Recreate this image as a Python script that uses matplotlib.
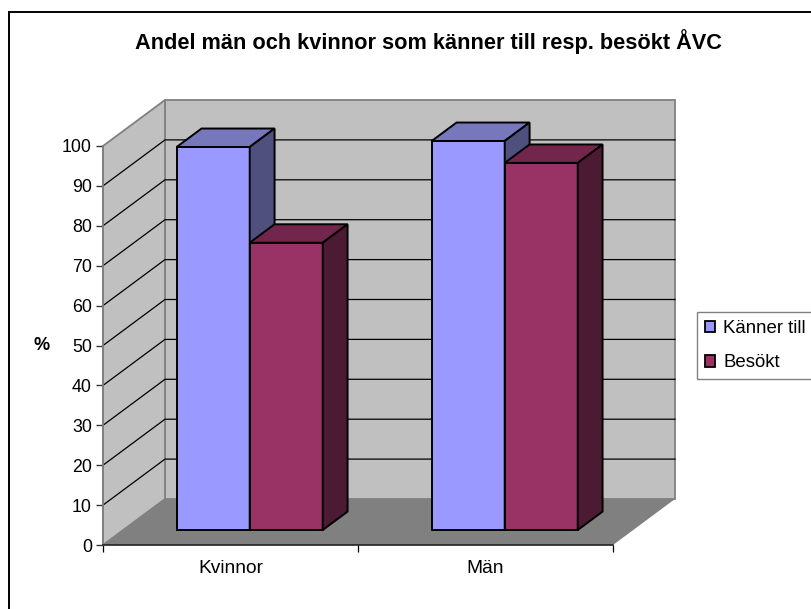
import matplotlib
matplotlib.use("Agg")
from matplotlib import pyplot as plt
from matplotlib.patches import Patch, Polygon, Rectangle

W, H = 811, 609

categories = ["Kvinnor", "Män"]
kanner_till = [96, 97.5]
besokt = [72, 92]
series_names = ["Känner till", "Besökt"]
y_ticks = [0, 10, 20, 30, 40, 50, 60, 70, 80, 90, 100]

# depth of the fake 3d box, in data units (categories / percent)
DX = 62 / 255
DY = 46 / 3.99
# bars sit between these depth fractions
Z0 = 0.326
Z1 = 0.727
BAR_OFF = 53.5 / 255
BAR_W = 73 / 255

blue = ("#9999FF", "#7777BB", "#50507F")
maroon = ("#993366", "#73264C", "#4D1A33")

plt.rcParams["font.family"] = ["Liberation Sans", "DejaVu Sans"]


def proj(x, y, z):
    return (x + z * DX, y + z * DY)


def face(ax, pts, color, edge="none", lw=0.0, zorder=1):
    ax.add_patch(Polygon([proj(*p) for p in pts], closed=True, facecolor=color,
                         edgecolor=edge, linewidth=lw, clip_on=False, zorder=zorder,
                         joinstyle="miter"))


def bar3d(ax, x, val, cols):
    x1 = x + BAR_W
    face(ax, [(x, 0, Z0), (x1, 0, Z0), (x1, val, Z0), (x, val, Z0)], cols[0], "black", 1.4, 5)
    face(ax, [(x, val, Z0), (x1, val, Z0), (x1, val, Z1), (x, val, Z1)], cols[1], "black", 1.4, 5)
    face(ax, [(x1, 0, Z0), (x1, 0, Z1), (x1, val, Z1), (x1, val, Z0)], cols[2], "black", 1.4, 5)


fig = plt.figure(figsize=(W / 100, H / 100), dpi=100)
ax = fig.add_axes([103 / W, 1 - 545 / H, 510 / W, 399 / H])
ax.set_xlim(0, len(categories))
ax.set_ylim(0, 100)
ax.patch.set_visible(False)

# outer frame, runs off the image on the right and bottom
fig.add_artist(Rectangle((8.5 / W, -0.02), 1, 1 - 11.5 / H + 0.02, transform=fig.transFigure,
                         facecolor="none", edgecolor="black", linewidth=1.4))

n = len(categories)
wall = "#808080"
# walls and floor
face(ax, [(0, 0, 1), (n, 0, 1), (n, 100, 1), (0, 100, 1)], "#C0C0C0", wall, 1.3, 1)
face(ax, [(0, 0, 0), (0, 0, 1), (0, 100, 1), (0, 100, 0)], "#C0C0C0", wall, 1.3, 1)
for t in y_ticks[1:-1]:
    xs, ys = zip(proj(0, t, 0), proj(0, t, 1), proj(n, t, 1))
    ax.plot(xs, ys, color="black", lw=0.9, clip_on=False, zorder=2)
face(ax, [(0, 0, 0), (n, 0, 0), (n, 0, 1), (0, 0, 1)], "#808080", zorder=3)

for i in range(n):
    bar3d(ax, i + BAR_OFF, kanner_till[i], blue)
    bar3d(ax, i + BAR_OFF + BAR_W, besokt[i], maroon)

for s in ["top", "right"]:
    ax.spines[s].set_visible(False)
ax.spines["left"].set_color("#808080")
ax.spines["left"].set_linewidth(1.3)
ax.spines["bottom"].set_color("#222222")
ax.spines["bottom"].set_linewidth(1.2)
ax.spines["left"].set_zorder(4)
ax.spines["bottom"].set_zorder(4)

ax.set_yticks(y_ticks)
ax.tick_params(axis="y", length=5, width=1, color="#333333", labelsize=12.8, pad=3)
ax.set_xticks(range(n + 1))
ax.set_xticklabels([])
ax.set_xticks([i + 0.5 for i in range(n)], minor=True)
ax.set_xticklabels(categories, minor=True)
ax.tick_params(axis="x", which="major", length=5.2, width=0.9, color="black")
ax.tick_params(axis="x", which="minor", length=0, labelsize=13.8, pad=11)

fig.text(428 / W, 1 - 42 / H, "Andel män och kvinnor som känner till resp. besökt ÅVC",
         fontsize=15.7, fontweight="bold", ha="center", va="center")
fig.text(42 / W, 1 - 345 / H, "%", fontsize=13, fontweight="bold", ha="center", va="center")

handles = [Patch(facecolor=blue[0], edgecolor="black", linewidth=1.3),
           Patch(facecolor=maroon[0], edgecolor="black", linewidth=1.3)]
leg = fig.legend(handles, series_names, loc="upper left",
                 bbox_to_anchor=(697 / W, 1 - 312 / H), bbox_transform=fig.transFigure,
                 fontsize=13.4, frameon=True, fancybox=False, edgecolor="#808080",
                 framealpha=1, handlelength=0.55, handleheight=0.55, handletextpad=0.45,
                 labelspacing=0.95, borderpad=0.42, borderaxespad=0)
leg.get_frame().set_linewidth(1.0)

fig.savefig("out.png", dpi=100)
